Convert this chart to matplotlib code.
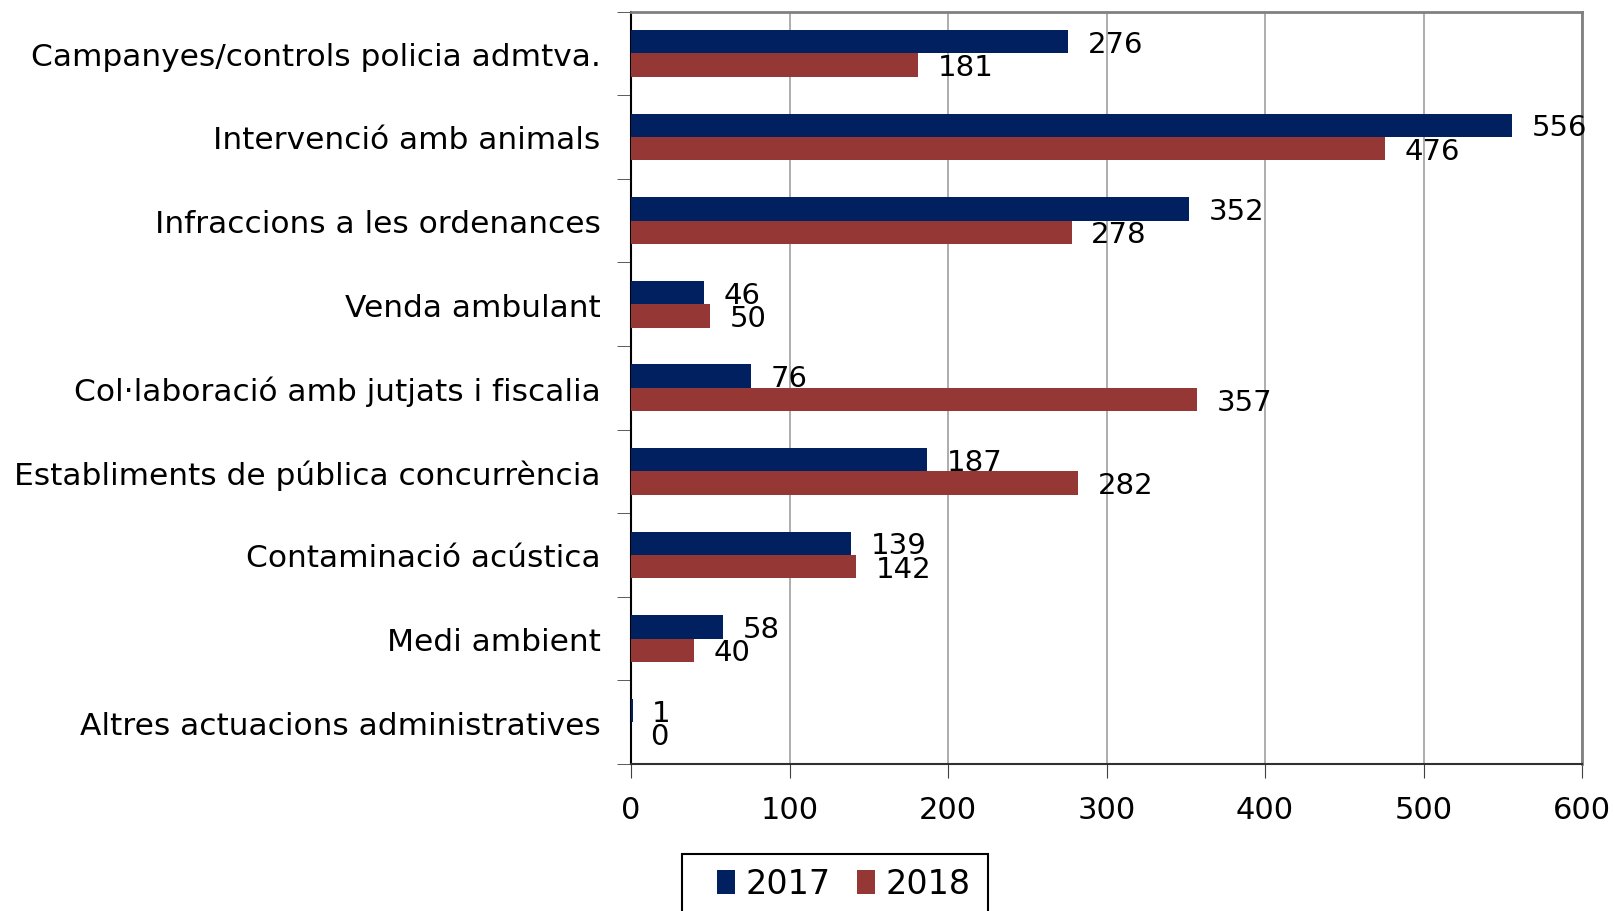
import matplotlib
matplotlib.use("Agg")
import matplotlib.pyplot as plt
from matplotlib.patches import Rectangle
import numpy as np

categories = [
    "Campanyes/controls policia admtva.",
    "Intervenció amb animals",
    "Infraccions a les ordenances",
    "Venda ambulant",
    "Col·laboració amb jutjats i fiscalia",
    "Establiments de pública concurrència",
    "Contaminació acústica",
    "Medi ambient",
    "Altres actuacions administratives",
]
vals_2017 = [276, 556, 352, 46, 76, 187, 139, 58, 1]
vals_2018 = [181, 476, 278, 50, 357, 282, 142, 40, 0]
years = ["2017", "2018"]
x_ticks = [0, 100, 200, 300, 400, 500, 600]

c2017 = "#002060"
c2018 = "#953735"

plt.rcParams["font.family"] = ["DejaVu Sans"]

fig = plt.figure(figsize=(16.14, 9.12), dpi=100)
ax = fig.add_axes([631 / 1614, 1 - 765 / 912, (1582 - 631) / 1614, (765 - 12.5) / 912])

n = len(categories)
y = np.arange(n)
h = 0.28
b1 = ax.barh(y - h / 2, vals_2017, height=h, color=c2017, label=years[0], zorder=3)
b2 = ax.barh(y + h / 2, vals_2018, height=h, color=c2018, label=years[1], zorder=3)

for bars, vals in [(b1, vals_2017), (b2, vals_2018)]:
    for rect, v in zip(bars, vals):
        ax.annotate(str(v), xy=(v, rect.get_y() + rect.get_height() / 2),
                    xytext=(14, -1.5), textcoords="offset points",
                    va="center", ha="left", fontsize=21)

ax.set_ylim(n - 0.5, -0.5)
ax.set_xlim(0, 600)
ax.set_xticks(x_ticks)
ax.set_xticklabels([str(t) for t in x_ticks], fontsize=22)
ax.tick_params(axis="x", length=10, pad=12, color="#404040")

# category labels centred on bands, ticks at band boundaries
ax.set_yticks(y)
ax.set_yticklabels(categories, fontsize=22.5)
ax.set_yticks(np.arange(n + 1) - 0.5, minor=True)
ax.tick_params(axis="y", which="major", length=0, pad=22)
ax.tick_params(axis="y", which="minor", length=10, color="#404040")

ax.grid(axis="x", color="#a0a0a0", linewidth=1.2, zorder=0)
ax.spines["top"].set_color("#808080")
ax.spines["right"].set_color("#808080")
ax.spines["top"].set_linewidth(2)
ax.spines["right"].set_linewidth(2)
ax.spines["left"].set_color("black")
ax.spines["bottom"].set_color("#303030")
ax.spines["left"].set_linewidth(1.5)
ax.spines["bottom"].set_linewidth(1.5)

# legend box runs off the bottom edge of the picture
fig.patches.append(Rectangle((682 / 1614, -0.05), (988 - 682) / 1614, 0.05 + 1 - 855 / 912,
                             transform=fig.transFigure, fill=False,
                             edgecolor="black", linewidth=1.5))
leg = fig.legend(handles=[b1, b2], labels=years, loc="center left",
                 bbox_to_anchor=(717 / 1614, 1 - 885 / 912), ncol=2,
                 fontsize=24, frameon=False,
                 handlelength=0.55, handleheight=0.75, handletextpad=0.3,
                 columnspacing=0.8, borderpad=0, borderaxespad=0)

fig.savefig("out.png", dpi=100)
